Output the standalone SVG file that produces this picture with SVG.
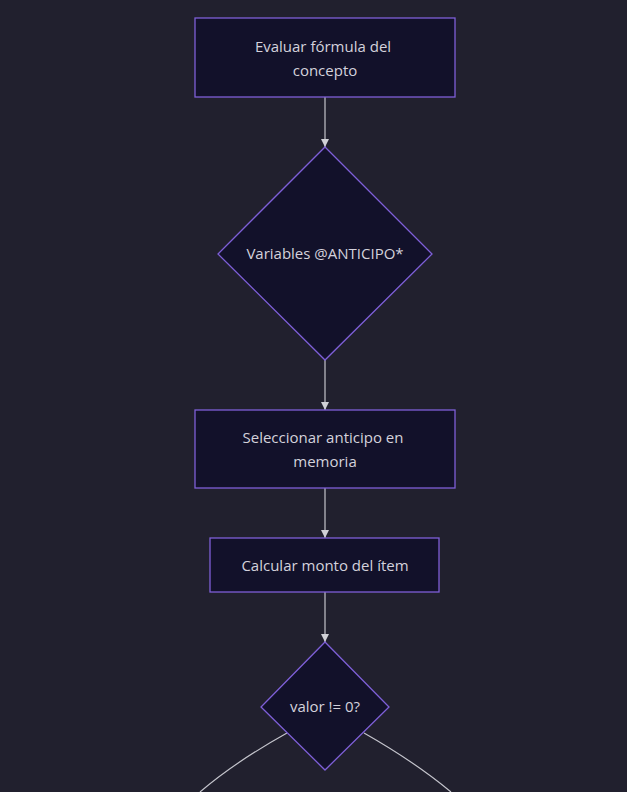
<svg xmlns="http://www.w3.org/2000/svg" width="627" height="792" viewBox="0 0 627 792">
<defs>
<style>
.node rect, .node polygon { fill: #12112a; stroke: #7e5fd8; stroke-width: 1.3; }
.node text { fill: #d4d2dc; font-family: "Open Sans", "Noto Sans", sans-serif; font-size: 15px; text-anchor: middle; }
.edge { stroke: #c4c4cc; stroke-width: 1.2; fill: none; }
</style>
<marker id="arrow" viewBox="0 0 10 10" refX="10" refY="5" markerWidth="8" markerHeight="8" markerUnits="userSpaceOnUse" orient="auto">
<path d="M0,0 L10,5 L0,10 z" fill="#d0d0d6"/>
</marker>
</defs>
<rect width="627" height="792" fill="#21202e"/>
<g id="connectors">
<path class="edge" d="M325,97 L325,147" marker-end="url(#arrow)"/>
<path class="edge" d="M325,360 L325,410" marker-end="url(#arrow)"/>
<path class="edge" d="M325,488 L325,538" marker-end="url(#arrow)"/>
<path class="edge" d="M325,592 L325,642" marker-end="url(#arrow)"/>
<path class="edge" d="M287,733 Q235,762 200,792"/>
<path class="edge" d="M364,733 Q415,762 451,792"/>
</g>
<g id="n1" class="node">
<rect x="195" y="18" width="260" height="79"/>
<text x="323" y="52">Evaluar fórmula del</text>
<text x="325" y="76">concepto</text>
</g>
<g id="n2" class="node">
<polygon points="325,147 432,254 325,360 218,254"/>
<text x="325" y="259">Variables @ANTICIPO*</text>
</g>
<g id="n3" class="node">
<rect x="195" y="410" width="260" height="78"/>
<text x="323" y="443">Seleccionar anticipo en</text>
<text x="325" y="467">memoria</text>
</g>
<g id="n4" class="node">
<rect x="210" y="538" width="229" height="54"/>
<text x="325" y="571">Calcular monto del ítem</text>
</g>
<g id="n5" class="node">
<polygon points="325,642 389,707 325,770 261,707"/>
<text x="325" y="712">valor != 0?</text>
</g>
</svg>
